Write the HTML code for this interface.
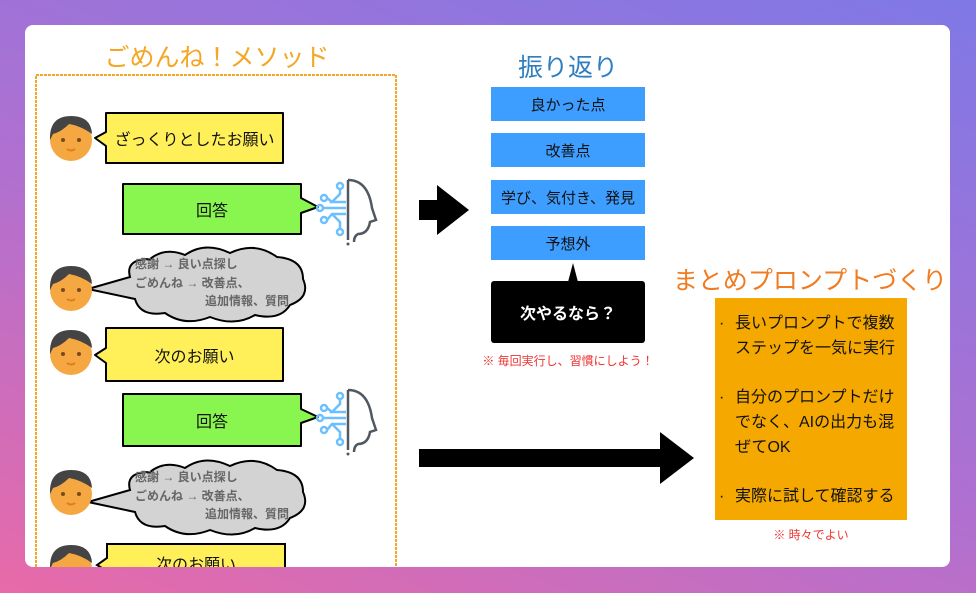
<!DOCTYPE html>
<html><head><meta charset="utf-8"><style>
*{margin:0;padding:0;box-sizing:border-box}
body{width:976px;height:593px;overflow:hidden;background:linear-gradient(20deg,#e86aa8 0%,#b070d0 45%,#7f78e6 100%);font-family:"Liberation Sans","Noto Sans CJK JP",sans-serif;position:relative}
.card{position:absolute;left:25px;top:25px;width:925px;height:542px;background:#fff;border-radius:8px;overflow:hidden}
.t{position:absolute;white-space:nowrap}
.c{position:absolute;display:flex;align-items:center;justify-content:center;color:#111}
.b{position:relative;padding-left:20px}
.b i{position:absolute;left:4px;top:0;font-style:normal}
</style></head><body>
<div class="card">
<svg width="925" height="542" style="position:absolute;left:0;top:0" font-family="Liberation Sans, Noto Sans CJK JP, sans-serif">
<defs>
<g id="face"><circle cx="0" cy="2" r="21" fill="#f5a742"/><path d="M-21 2 Q-22 -22 0 -22 Q20 -22 21 -4 Q10 -12 -2 -14 Q-10 -6 -18 -4 Z" fill="#444"/><circle cx="-8" cy="2" r="2" fill="#7a4a1a"/><circle cx="8" cy="2" r="2" fill="#7a4a1a"/><path d="M-4 11 Q0 14 4 11" stroke="#e07a1a" stroke-width="2" fill="none"/></g>
<g id="ai" fill="none" stroke-width="2.5"><path d="M30 2 L30 62" stroke="#505862"/><path d="M30 2 Q50 2 54 30 L58 42 L52 44 Q50 56 40 56 Q36 58 36 64" stroke="#505862"/><g stroke="#6cc0ff"><circle cx="22" cy="8" r="3"/><circle cx="6" cy="20" r="3"/><circle cx="2" cy="30" r="3"/><circle cx="6" cy="42" r="3"/><circle cx="22" cy="54" r="3"/><path d="M22 11 L22 16 L14 24 L28 24 M5 30 L28 30 M9 20 L14 24 M9 42 L14 36 L28 36 M22 51 L22 44 L14 36"/></g><circle cx="30" cy="66" r="1.5" fill="#505862" stroke="none"/></g>
<path id="cloud" d="M80 8 Q100 -6 125 6 Q150 -6 172 10 Q198 12 198 32 Q206 50 185 58 Q175 74 150 68 Q130 80 105 70 Q80 80 60 66 Q35 70 30 52 L-17 42 L25 30 Q20 12 45 12 Q60 0 80 8 Z" fill="#d3d3d3" stroke="#000" stroke-width="2"/>
</defs>
<rect x="11" y="50" width="360" height="520" fill="none" stroke="#f5a623" stroke-width="2" stroke-dasharray="3 1"/>
<use href="#face" x="46" y="113"/>
<path d="M81 88 H258 V138 H81 V121 L70 113 L81 107 Z" fill="#fff05a" stroke="#000" stroke-width="2" stroke-linejoin="round"/>
<path d="M98 159 H276 V173 L293 182 L276 188 V209 H98 Z" fill="#88f64e" stroke="#000" stroke-width="2" stroke-linejoin="round"/>
<use href="#ai" x="293" y="153"/>
<use href="#cloud" x="80" y="222"/>
<use href="#face" x="46" y="263"/>
<use href="#face" x="46" y="327"/>
<path d="M81 303 H258 V356 H81 V338 L70 330 L81 323 Z" fill="#fff05a" stroke="#000" stroke-width="2" stroke-linejoin="round"/>
<path d="M98 369 H276 V384 L293 392 L276 398 V421 H98 Z" fill="#88f64e" stroke="#000" stroke-width="2" stroke-linejoin="round"/>
<use href="#ai" x="293" y="363"/>
<use href="#cloud" x="80" y="435"/>
<use href="#face" x="46" y="467"/>
<use href="#face" x="46" y="542"/>
<path d="M82 519 H260 V580 H82 V546 L72 540 L82 533 Z" fill="#fff05a" stroke="#000" stroke-width="2"/>
<path d="M394 175 H412 V160 L444 185 L412 210 V195 H394 Z" fill="#000"/>
<path d="M394 424 H635 V407 L669 433 L635 459 V442 H394 Z" fill="#000"/>
<rect x="466" y="62" width="154" height="34" fill="#3d9eff"/>
<rect x="466" y="108" width="154" height="34" fill="#3d9eff"/>
<rect x="466" y="155" width="154" height="34" fill="#3d9eff"/>
<rect x="466" y="201" width="154" height="34" fill="#3d9eff"/>
<path d="M543 257 L548 238 L553 257 Z" fill="#000"/>
<rect x="466" y="256" width="154" height="62" rx="3" fill="#000"/>
<rect x="690" y="273" width="192" height="222" fill="#f5a800"/>
</svg>
<div class="t" style="left:0;width:384px;text-align:center;top:13px;font-size:25px;color:#f5a623">ごめんね！メソッド</div>
<div class="c" style="left:81px;top:88px;width:177px;height:50px;font-size:16px">ざっくりとしたお願い</div>
<div class="c" style="left:98px;top:159px;width:178px;height:50px;font-size:16px">回答</div>
<div class="t" style="left:110px;top:230px;font-size:12px;font-weight:bold;color:#666;line-height:18.5px">感謝 → 良い点探し<br>ごめんね → 改善点、<br><span style="padding-left:70px">追加情報、質問</span></div>
<div class="c" style="left:81px;top:303px;width:177px;height:53px;font-size:16px">次のお願い</div>
<div class="c" style="left:98px;top:369px;width:178px;height:52px;font-size:16px">回答</div>
<div class="t" style="left:110px;top:443px;font-size:12px;font-weight:bold;color:#666;line-height:18.5px">感謝 → 良い点探し<br>ごめんね → 改善点、<br><span style="padding-left:70px">追加情報、質問</span></div>
<div class="c" style="left:82px;top:522px;width:178px;height:32px;font-size:16px">次のお願い</div>
<div class="t" style="left:443px;width:200px;text-align:center;top:23px;font-size:25px;color:#2f7fc0">振り返り</div>
<div class="c" style="left:466px;top:62px;width:154px;height:34px;font-size:15px">良かった点</div>
<div class="c" style="left:466px;top:108px;width:154px;height:34px;font-size:15px">改善点</div>
<div class="c" style="left:466px;top:155px;width:154px;height:34px;font-size:15px">学び、気付き、発見</div>
<div class="c" style="left:466px;top:201px;width:154px;height:34px;font-size:15px">予想外</div>
<div class="c" style="left:466px;top:256px;width:154px;height:62px;font-size:16px;font-weight:bold;color:#fff">次やるなら？</div>
<div class="t" style="left:443px;width:200px;text-align:center;top:327px;font-size:12px;color:#e33">※ 毎回実行し、習慣にしよう！</div>
<div class="t" style="left:630px;width:310px;text-align:center;top:236px;font-size:25px;color:#f07b20">まとめプロンプトづくり</div>
<div class="t" style="left:690px;top:286px;font-size:16px;line-height:25px;color:#111">
<div class="b"><i>·</i>長いプロンプトで複数<br>ステップを一気に実行</div>
<div class="b" style="margin-top:24px"><i>·</i>自分のプロンプトだけ<br>でなく、AIの出力も混<br>ぜてOK</div>
<div class="b" style="margin-top:24px"><i>·</i>実際に試して確認する</div>
</div>
<div class="t" style="left:690px;width:192px;text-align:center;top:501px;font-size:12px;color:#e33">※ 時々でよい</div>
</div>
</body></html>
